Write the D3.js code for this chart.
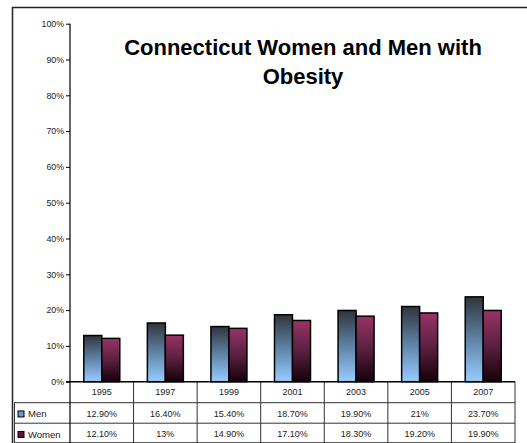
<!DOCTYPE html>
<html>
<head>
<meta charset="utf-8">
<script src="https://cdn.jsdelivr.net/npm/d3@7"></script>
<style>
  body { margin: 0; background: #fff; }
  text { font-family: Arial, "Liberation Sans", sans-serif; }
</style>
</head>
<body>
<div id="container"></div>
<script>
const years = ["1995", "1997", "1999", "2001", "2003", "2005", "2007"];
const series = ["Men", "Women"];
const men = [12.9, 16.4, 15.4, 18.7, 19.9, 21, 23.7];
const women = [12.1, 13, 14.9, 17.1, 18.3, 19.2, 19.9];
const menLabels = ["12.90%", "16.40%", "15.40%", "18.70%", "19.90%", "21%", "23.70%"];
const womenLabels = ["12.10%", "13%", "14.90%", "17.10%", "18.30%", "19.20%", "19.90%"];
const yTicks = [0, 10, 20, 30, 40, 50, 60, 70, 80, 90, 100];

const width = 527, height = 443;
const plotLeft = 70, plotRight = 515, plotTop = 23.7, plotBottom = 381.7;
const rowH = [21, 20.5, 20.5];

const svg = d3.select("#container").append("svg")
    .attr("width", width)
    .attr("height", height);

const defs = svg.append("defs");
function grad(id, top, mid, bottom) {
    const g = defs.append("linearGradient").attr("id", id)
        .attr("x1", 0).attr("y1", 0).attr("x2", 0).attr("y2", 1);
    g.append("stop").attr("offset", "0%").attr("stop-color", top);
    g.append("stop").attr("offset", "50%").attr("stop-color", mid);
    g.append("stop").attr("offset", "100%").attr("stop-color", bottom);
}
grad("gMen", "#30353c", "#5f82a6", "#99ccff");
grad("gWomen", "#993366", "#5a2040", "#150008");

const fill = { Men: "url(#gMen)", Women: "url(#gWomen)" };
const swatch = { Men: "#6699cc", Women: "#661133" };

// outer frame
svg.append("rect")
    .attr("x", 12.5).attr("y", 7.5)
    .attr("width", 600).attr("height", 500)
    .attr("fill", "#fff")
    .attr("stroke", "#222")
    .attr("stroke-width", 1.5);

const x0 = d3.scaleBand().domain(years).range([plotLeft, plotRight]);
const x1 = d3.scaleBand().domain(series).range([0, x0.bandwidth()]).paddingOuter(0.766);
const y = d3.scaleLinear().domain([0, 100]).range([plotBottom, plotTop]);

// title
const title = svg.append("text")
    .attr("text-anchor", "middle")
    .attr("font-size", 22)
    .attr("font-weight", "bold")
    .attr("fill", "#000");
title.append("tspan").attr("x", 303).attr("y", 55).text("Connecticut Women and Men with");
title.append("tspan").attr("x", 303).attr("y", 84).text("Obesity");

// bars
const data = years.map((yr, i) => ({ year: yr, Men: men[i], Women: women[i] }));
svg.append("g")
    .selectAll("g")
    .data(data)
    .join("g")
    .attr("transform", d => `translate(${x0(d.year)},0)`)
    .selectAll("rect")
    .data(d => series.map(s => ({ key: s, value: d[s] })))
    .join("rect")
    .attr("x", d => x1(d.key))
    .attr("y", d => y(d.value))
    .attr("width", x1.bandwidth())
    .attr("height", d => plotBottom - y(d.value))
    .attr("fill", d => fill[d.key])
    .attr("stroke", "#000")
    .attr("stroke-width", 1.5);

// y axis
const yAxis = svg.append("g")
    .attr("transform", `translate(${plotLeft},0)`)
    .call(d3.axisLeft(y).tickValues(yTicks).tickSize(4).tickPadding(2).tickFormat(d => d + "%"));
yAxis.select(".domain").attr("stroke", "#000").attr("stroke-width", 1.2).attr("d", `M0,${plotTop}V${plotBottom}`);
yAxis.selectAll(".tick line").attr("stroke", "#000");
yAxis.selectAll(".tick text")
    .attr("font-family", "Arial, 'Liberation Sans', sans-serif")
    .attr("font-size", 8.8)
    .attr("fill", "#222");

// data table
const tbl = svg.append("g");
const r1 = plotBottom + rowH[0];
const r2 = r1 + rowH[1];
const r3 = r2 + rowH[2];
const lineColor = "#333";

// horizontal lines
[r1, r2].forEach(yy => {
    tbl.append("line")
        .attr("x1", 14).attr("x2", plotRight)
        .attr("y1", yy).attr("y2", yy)
        .attr("stroke", lineColor).attr("stroke-width", 1);
});
tbl.append("line")
    .attr("x1", 14).attr("x2", plotRight)
    .attr("y1", r3 - 1).attr("y2", r3 - 1)
    .attr("stroke", lineColor).attr("stroke-width", 1);
// vertical lines
years.forEach(yr => {
    tbl.append("line")
        .attr("x1", x0(yr) + x0.bandwidth()).attr("x2", x0(yr) + x0.bandwidth())
        .attr("y1", plotBottom).attr("y2", r3)
        .attr("stroke", lineColor).attr("stroke-width", 1);
});
tbl.append("line")
    .attr("x1", plotLeft).attr("x2", plotLeft)
    .attr("y1", plotBottom).attr("y2", r3)
    .attr("stroke", "#000").attr("stroke-width", 1.2);
tbl.append("line")
    .attr("x1", 14.5).attr("x2", 14.5)
    .attr("y1", r1).attr("y2", r3)
    .attr("stroke", lineColor).attr("stroke-width", 1);

// x axis baseline
svg.append("line")
    .attr("x1", plotLeft - 4).attr("x2", plotRight)
    .attr("y1", plotBottom).attr("y2", plotBottom)
    .attr("stroke", "#000").attr("stroke-width", 1.5);

const cellText = (txt, cx, cy) => tbl.append("text")
    .attr("x", cx).attr("y", cy)
    .attr("text-anchor", "middle")
    .attr("dominant-baseline", "central")
    .attr("font-size", 9)
    .attr("fill", "#222")
    .text(txt);

years.forEach((yr, i) => {
    const cx = x0(yr) + x0.bandwidth() / 2;
    cellText(yr, cx, (plotBottom + r1) / 2);
    cellText(menLabels[i], cx, (r1 + r2) / 2 + 1);
    cellText(womenLabels[i], cx, (r2 + r3) / 2 + 1);
});

// legend cells
[[series[0], (r1 + r2) / 2 + 1], [series[1], (r2 + r3) / 2 + 1]].forEach(([s, cy]) => {
    tbl.append("rect")
        .attr("x", 18).attr("y", cy - 3)
        .attr("width", 6).attr("height", 6)
        .attr("fill", swatch[s])
        .attr("stroke", "#000").attr("stroke-width", 1);
    tbl.append("text")
        .attr("x", 28).attr("y", cy)
        .attr("dominant-baseline", "central")
        .attr("font-size", 9.5)
        .attr("fill", "#222")
        .text(s);
});
</script>
</body>
</html>
